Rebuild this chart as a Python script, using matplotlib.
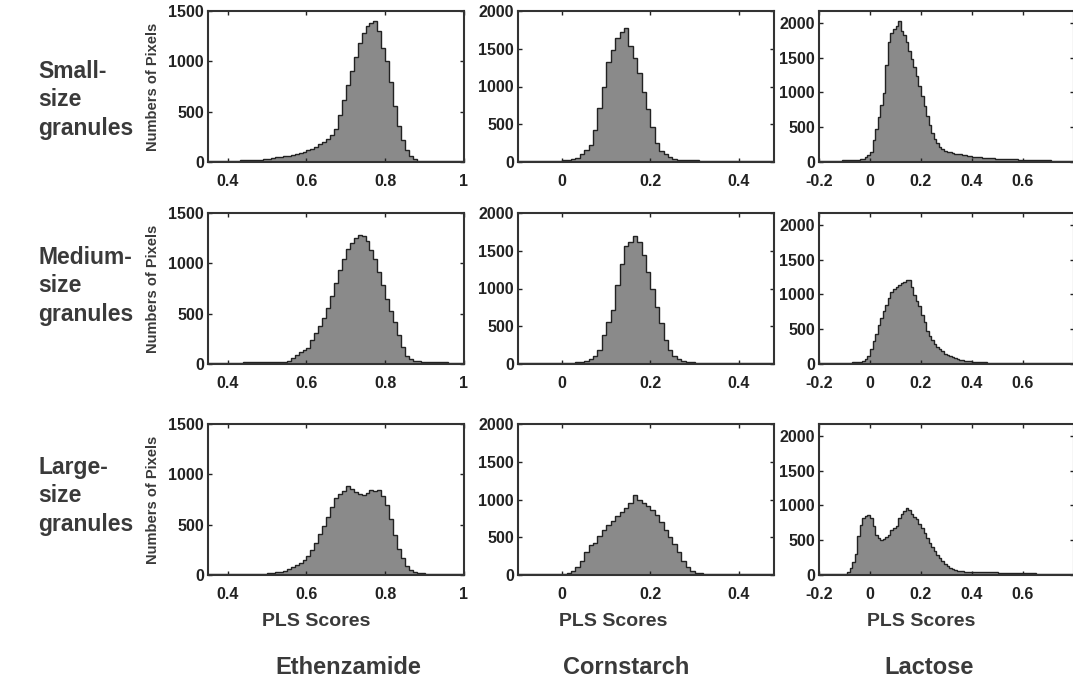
import numpy as np
import matplotlib
matplotlib.use("Agg")
import matplotlib.pyplot as plt

plt.rcParams["font.family"] = ["Liberation Sans", "DejaVu Sans"]

# bin edges (0.01 wide) for each material
eth_edges = np.round(np.arange(0.35, 1.0 + 1e-9, 0.01), 3)
corn_edges = np.round(np.arange(-0.10, 0.48 + 1e-9, 0.01), 3)
lac_edges = np.round(np.arange(-0.20, 0.80 + 1e-9, 0.01), 3)

# pixel counts per bin
eth_small = [10, 10, 12, 12, 12, 12, 14, 14, 15, 15,
             17, 18, 20, 22, 25, 30, 40, 45, 50, 55,
             62, 70, 80, 90, 100, 115, 130, 150, 175, 200,
             230, 270, 330, 470, 620, 760, 900, 1040, 1180, 1280,
             1350, 1380, 1400, 1300, 1130, 1000, 790, 560, 360, 220,
             120, 55, 25, 12, 8, 6, 5, 5, 5, 5,
             5, 5, 5, 5, 5]
eth_medium = [12, 12, 12, 13, 13, 13, 14, 14, 14, 15,
              15, 16, 16, 17, 17, 18, 18, 19, 20, 22,
              28, 55, 85, 115, 140, 160, 240, 310, 380, 460,
              560, 680, 800, 930, 1040, 1140, 1200, 1250, 1280, 1270,
              1220, 1130, 1040, 910, 780, 650, 530, 420, 290, 170,
              80, 45, 30, 25, 20, 18, 18, 16, 16, 15,
              15, 14, 14, 13, 12]
eth_large = [8, 8, 8, 8, 8, 8, 9, 9, 9, 10,
             10, 11, 12, 13, 14, 16, 20, 25, 32, 42,
             60, 78, 95, 120, 150, 190, 250, 320, 410, 490,
             580, 680, 760, 800, 830, 880, 850, 820, 800, 790,
             810, 840, 830, 845, 780, 700, 560, 400, 260, 170,
             90, 45, 25, 18, 15, 12, 10, 10, 9, 9,
             8, 8, 8, 8, 8]

corn_small = [10, 10, 10, 12, 12, 12, 14, 15, 15, 18,
              20, 30, 45, 55, 110, 160, 230, 420, 720, 1000,
              1330, 1480, 1640, 1720, 1780, 1540, 1380, 1180, 930, 700,
              460, 250, 150, 100, 60, 40, 30, 25, 22, 20,
              20, 19, 18, 18, 17, 16, 15, 15, 14, 14,
              13, 13, 12, 12, 11, 11, 10, 10]
corn_medium = [12, 12, 12, 12, 14, 14, 14, 15, 15, 15,
               16, 16, 18, 20, 25, 40, 70, 100, 180, 380,
               560, 720, 1040, 1320, 1560, 1610, 1700, 1620, 1440, 1220,
               1000, 760, 540, 320, 190, 110, 70, 45, 30, 22,
               18, 18, 16, 16, 15, 15, 14, 14, 13, 13,
               12, 12, 12, 11, 11, 10, 10, 10]
corn_large = [10, 10, 10, 10, 12, 12, 12, 12, 14, 15,
              18, 30, 55, 110, 180, 300, 400, 430, 520, 600,
              660, 720, 780, 840, 890, 960, 1060, 1000, 960, 920,
              860, 790, 700, 600, 500, 410, 300, 190, 100, 55,
              30, 22, 18, 15, 15, 14, 14, 13, 13, 12,
              12, 12, 11, 11, 10, 10, 10, 10]

lac_small = [15, 15, 15, 18, 18, 18, 20, 20, 20, 22,
             22, 25, 25, 28, 30, 35, 40, 50, 70, 95,
             150, 320, 480, 650, 820, 990, 1400, 1720, 1850, 1910,
             1950, 2030, 1880, 1820, 1720, 1600, 1480, 1370, 1230, 1090,
             950, 800, 660, 530, 420, 330, 270, 220, 180, 165,
             150, 140, 130, 122, 115, 108, 100, 95, 88, 82,
             78, 75, 70, 66, 62, 60, 57, 55, 52, 50,
             48, 46, 44, 42, 40, 38, 37, 36, 35, 34,
             33, 32, 30, 29, 28, 27, 26, 25, 24, 23,
             22, 21, 20, 20, 19, 18, 18, 17, 16, 15]
lac_medium = [10, 10, 10, 12, 12, 12, 12, 14, 14, 15,
              15, 18, 20, 22, 25, 30, 35, 45, 70, 110,
              220, 330, 430, 560, 660, 760, 850, 950, 1030, 1080,
              1110, 1140, 1160, 1180, 1200, 1210, 1100, 990, 900, 840,
              700, 600, 480, 400, 340, 290, 250, 210, 180, 150,
              130, 110, 95, 82, 72, 62, 55, 48, 42, 38,
              34, 30, 28, 26, 24, 22, 21, 20, 19, 18,
              18, 17, 17, 16, 16, 15, 15, 15, 14, 14,
              14, 13, 13, 13, 12, 12, 12, 12, 11, 11,
              11, 11, 10, 10, 10, 10, 10, 10, 10, 10]
lac_large = [10, 10, 10, 10, 10, 10, 10, 12, 12, 14,
             20, 40, 100, 180, 300, 560, 720, 820, 850, 860,
             820, 700, 580, 530, 510, 520, 540, 580, 640, 670,
             700, 820, 880, 920, 960, 940, 880, 840, 800, 740,
             680, 600, 530, 460, 400, 340, 290, 240, 200, 160,
             130, 100, 80, 70, 62, 56, 52, 50, 48, 46,
             45, 44, 42, 40, 40, 38, 38, 37, 36, 36,
             35, 35, 34, 34, 33, 33, 32, 32, 30, 30,
             28, 26, 25, 24, 22, 20, 20, 19, 18, 18,
             16, 15, 15, 14, 14, 13, 12, 12, 12, 12]

materials = ["Ethenzamide", "Cornstarch", "Lactose"]
row_labels = ["Small-\nsize\ngranules", "Medium-\nsize\ngranules", "Large-\nsize\ngranules"]

eth_xticks = [0.4, 0.6, 0.8, 1.0]
eth_xlabels = ["0.4", "0.6", "0.8", "1"]
corn_xticks = [0.0, 0.2, 0.4]
corn_xlabels = ["0", "0.2", "0.4"]
lac_xticks = [-0.2, 0.0, 0.2, 0.4, 0.6]
lac_xlabels = ["-0.2", "0", "0.2", "0.4", "0.6"]

eth_yticks = [0, 500, 1000, 1500]
big_yticks = [0, 500, 1000, 1500, 2000]

columns = [
    dict(edges=eth_edges, data=[eth_small, eth_medium, eth_large],
         xlim=(0.35, 1.0), ylim=(0, 1500), xt=eth_xticks, xl=eth_xlabels, yt=eth_yticks),
    dict(edges=corn_edges, data=[corn_small, corn_medium, corn_large],
         xlim=(-0.10, 0.48), ylim=(0, 2000), xt=corn_xticks, xl=corn_xlabels, yt=big_yticks),
    dict(edges=lac_edges, data=[lac_small, lac_medium, lac_large],
         xlim=(-0.20, 0.80), ylim=(0, 2170), xt=lac_xticks, xl=lac_xlabels, yt=big_yticks),
]

W, H = 1073, 685
fig = plt.figure(figsize=(W / 100, H / 100), dpi=100)

col_left = [208, 518, 819]
col_width = [256, 256, 255]
row_top = [11, 213, 424]
row_h = 151

# label anchor points (pixels from top-left)
row_label_y = [100, 286, 496]
pls_x = [316, 613, 921]
material_x = [348, 626, 929]

fill_col = "#8a8a8a"
edge_col = "#222222"
text_col = "#3a3a3a"

for r in range(3):
    for c, spec in enumerate(columns):
        ax = fig.add_axes([col_left[c] / W, 1 - (row_top[r] + row_h) / H,
                           col_width[c] / W, row_h / H])
        counts = np.array(spec["data"][r], dtype=float)
        ax.stairs(counts, spec["edges"], fill=True, color=fill_col, lw=0)
        ax.stairs(counts, spec["edges"], color=edge_col, lw=1.0)
        ax.set_xlim(*spec["xlim"])
        ax.set_ylim(*spec["ylim"])
        ax.set_xticks(spec["xt"])
        ax.set_xticklabels(spec["xl"])
        ax.set_yticks(spec["yt"])
        ax.set_yticklabels([str(v) for v in spec["yt"]])
        ax.tick_params(direction="in", length=3, width=1, top=True, right=True,
                       labelsize=11.5, colors="#222222")
        ax.tick_params(axis="x", pad=8.5)
        ax.tick_params(axis="y", pad=3)
        for lab in ax.get_xticklabels() + ax.get_yticklabels():
            lab.set_fontweight("bold")
        for sp in ax.spines.values():
            sp.set_linewidth(1.5)
            sp.set_color("#333333")
        if c == 0:
            ax.set_ylabel("Numbers of Pixels", fontsize=10.5, fontweight="bold",
                          color=text_col, labelpad=6)

for r, txt in enumerate(row_labels):
    fig.text(38 / W, 1 - row_label_y[r] / H, txt, fontsize=16.5, fontweight="bold",
             color=text_col, ha="left", va="center", linespacing=1.3)

for c in range(3):
    fig.text(pls_x[c] / W, 1 - 622 / H, "PLS Scores", fontsize=14, fontweight="bold",
             color=text_col, ha="center", va="center")
    fig.text(material_x[c] / W, 1 - 668 / H, materials[c], fontsize=17, fontweight="bold",
             color=text_col, ha="center", va="center")

fig.savefig("out.png", dpi=100)
